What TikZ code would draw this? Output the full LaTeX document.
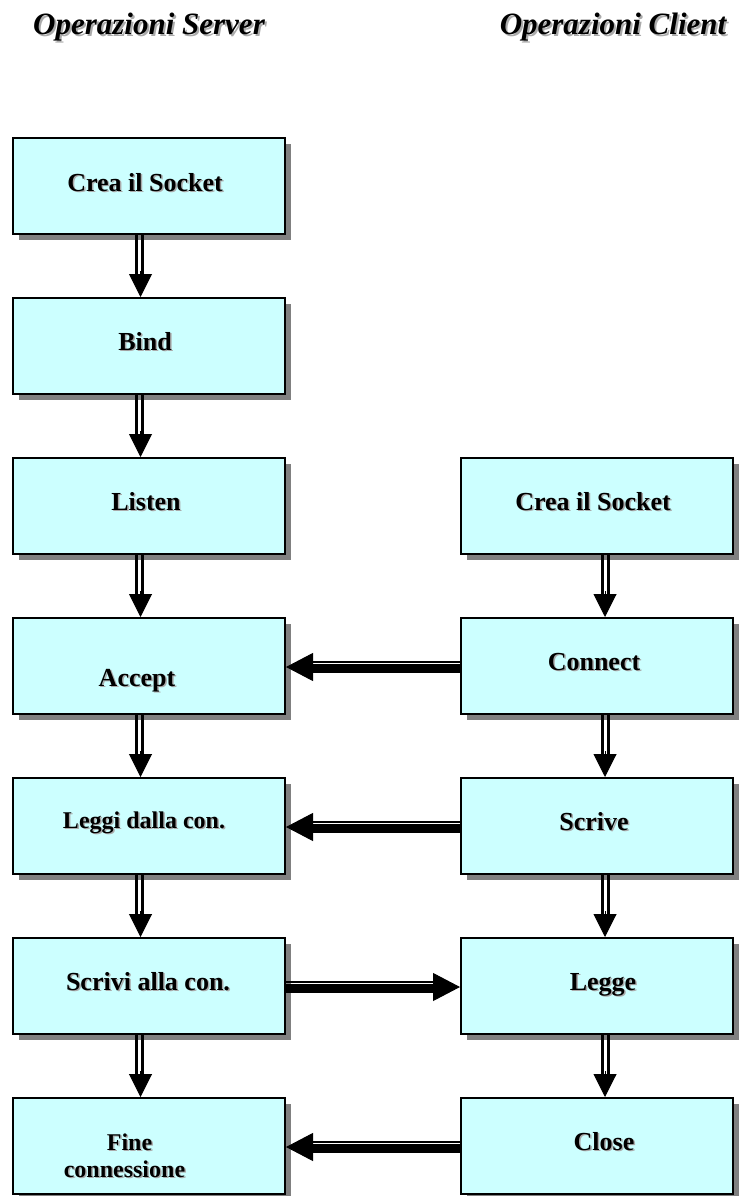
\documentclass[tikz,border=0pt]{standalone}
\usepackage{fontspec}
\setmainfont{Liberation Serif}
\usetikzlibrary{shadows,arrows.meta,calc}

\definecolor{boxcyan}{HTML}{CCFFFF}
\definecolor{boxshade}{HTML}{808080}
\definecolor{textshade}{HTML}{ABABAB}

\tikzset{
  stepbox/.style={draw=black, line width=2pt, fill=boxcyan,
    minimum width=272pt, minimum height=96pt, inner sep=0pt,
    drop shadow={shadow xshift=6pt, shadow yshift=-6pt, fill=boxshade, opacity=1}},
  steplabel/.style={font=\bfseries\fontsize{26}{28}\selectfont, anchor=base, inner sep=0pt},
  smalllabel/.style={steplabel, font=\bfseries\fontsize{24}{26}\selectfont},
  titlelabel/.style={font=\bfseries\itshape\fontsize{31}{34}\selectfont, anchor=base, inner sep=0pt},
  vshaft/.style={line width=3pt, shorten >=22pt},
  vhead/.style={line width=1pt, shorten <=36pt, -{Triangle[length=23pt,width=23pt]}},
  hthin/.style={line width=2pt, shorten >=26pt},
  hthick/.style={line width=9pt, shorten >=26pt},
  hhead/.style={line width=1pt, -{Triangle[length=27pt,width=28pt]}},
}

% label with a soft grey drop shadow behind it
\newcommand\shadedlabel[5]{% style, name, x, y, text
  \node[#1, text=textshade] (#2s) at ([xshift=1.5pt,yshift=-1.5pt]#3,#4) {#5};
  \node[#1] (#2) at (#3,#4) {#5};
}

% downward double-line arrow between two boxes
\newcommand\flowdown[5]{% from, to, left line dx, right line dx, tip dx
  \draw[vshaft] ([xshift=#3pt]#1.south) -- ([xshift=#3pt]#2.north);
  \draw[vshaft] ([xshift=#4pt]#1.south) -- ([xshift=#4pt]#2.north);
  \draw[vhead] ([xshift=#5pt]#1.south) -- ([xshift=#5pt]#2.north);
}

% horizontal arrow: thin line over a thick bar
\newcommand\flowacross[2]{% from anchor, to anchor
  \draw[hthin] ([yshift=4.5pt]#1) -- ([yshift=4.5pt]#2);
  \draw[hthick] ([yshift=-2.5pt]#1) -- ([yshift=-2.5pt]#2);
  \draw[hhead] ([yshift=-1pt]#1) -- ([yshift=-1pt]#2);
}

\begin{document}
\begin{tikzpicture}[x=1pt, y=-1pt]
\useasboundingbox (0,0) rectangle (739,1196);

% column titles
\node[titlelabel, text=textshade] (ts) at ([xshift=2pt,yshift=-2pt]149,35) {Operazioni Server};
\node[titlelabel] (t1) at (149,35) {Operazioni Server};
\node[titlelabel, text=textshade] (tcs) at ([xshift=2pt,yshift=-2pt]613,35) {Operazioni Client};
\node[titlelabel] (t2) at (613,35) {Operazioni Client};

% server boxes
\node[stepbox] (s1) at (149,186) {};
\node[stepbox] (s2) at (149,346) {};
\node[stepbox] (s3) at (149,506) {};
\node[stepbox] (s4) at (149,666) {};
\node[stepbox] (s5) at (149,826) {};
\node[stepbox] (s6) at (149,986) {};
\node[stepbox] (s7) at (149,1146) {};

% client boxes
\node[stepbox] (c3) at (597,506) {};
\node[stepbox] (c4) at (597,666) {};
\node[stepbox] (c5) at (597,826) {};
\node[stepbox] (c6) at (597,986) {};
\node[stepbox] (c7) at (597,1146) {};

% server labels
\shadedlabel{steplabel}{s1t}{145}{191}{Crea il Socket}
\shadedlabel{steplabel}{s2t}{145}{350}{Bind}
\shadedlabel{steplabel}{s3t}{146}{510}{Listen}
\shadedlabel{steplabel}{s4t}{137}{686}{Accept}
\shadedlabel{smalllabel}{s5t}{144}{828}{Leggi dalla con.}
\shadedlabel{steplabel}{s6t}{148}{990}{Scrivi alla con.}
\shadedlabel{smalllabel}{s7t}{129.5}{1150}{Fine}
\shadedlabel{smalllabel}{s7u}{124.5}{1177}{connessione}

% client labels
\shadedlabel{steplabel}{c3t}{593}{510}{Crea il Socket}
\shadedlabel{steplabel}{c4t}{594}{670}{Connect}
\shadedlabel{steplabel}{c5t}{594}{830}{Scrive}
\shadedlabel{steplabel}{c6t}{603}{990}{Legge}
\shadedlabel{steplabel}{c7t}{604}{1150}{Close}

% server flow
\flowdown{s1}{s2}{-12.5}{-6.5}{-8.5}
\flowdown{s2}{s3}{-12.5}{-6.5}{-8.5}
\flowdown{s3}{s4}{-12.5}{-6.5}{-8.5}
\flowdown{s4}{s5}{-12.5}{-6.5}{-8.5}
\flowdown{s5}{s6}{-12.5}{-6.5}{-8.5}
\flowdown{s6}{s7}{-12.5}{-6.5}{-8.5}

% client flow
\flowdown{c3}{c4}{5}{11}{8}
\flowdown{c4}{c5}{5}{11}{8}
\flowdown{c5}{c6}{5}{11}{8}
\flowdown{c6}{c7}{5}{11}{8}

% exchanges between the two sides
\flowacross{c4.west}{s4.east}
\flowacross{c5.west}{s5.east}
\flowacross{s6.east}{c6.west}
\flowacross{c7.west}{s7.east}
\end{tikzpicture}
\end{document}
